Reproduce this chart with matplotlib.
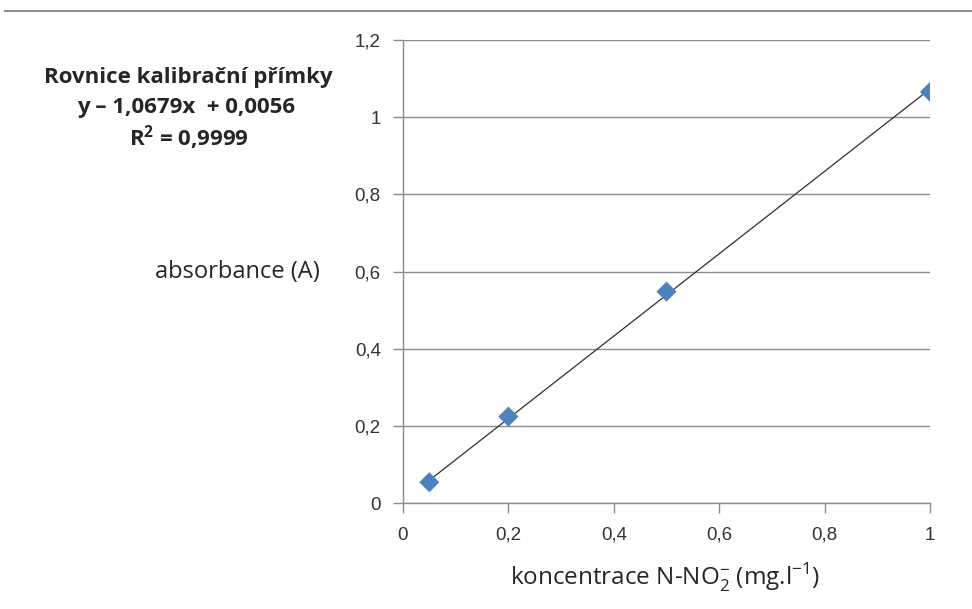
import numpy as np
import matplotlib.pyplot as plt
from matplotlib.lines import Line2D

# data
koncentrace = [0.05, 0.2, 0.5, 1.0]
absorbance = [0.054, 0.224, 0.548, 1.066]
slope = 1.0679
intercept = 0.0056
xticks = [0, 0.2, 0.4, 0.6, 0.8, 1.0]
xlabels = ['0', '0,2', '0,4', '0,6', '0,8', '1']
yticks = [0, 0.2, 0.4, 0.6, 0.8, 1.0, 1.2]
ylabels = ['0', '0,2', '0,4', '0,6', '0,8', '1', '1,2']

txt = '#262626'
fig = plt.figure(figsize=(9.72, 6.09), dpi=100)
ax = fig.add_axes([0.4146, 0.174, 0.5422, 0.760])

# trend line
xl = np.array([koncentrace[0], koncentrace[-1]])
ax.plot(xl, slope * xl + intercept, color='#303030', lw=0.9, zorder=3)
ax.scatter(koncentrace, absorbance, marker='D', s=105, color='#4F81BD',
           edgecolors='none', zorder=4)

ax.set_xlim(0, 1)
ax.set_ylim(0, 1.2)
ax.set_xticks(xticks)
ax.set_xticklabels(xlabels, fontfamily='Liberation Sans', fontsize=13.5)
ax.set_yticks(yticks)
ax.set_yticklabels(ylabels, fontfamily='Liberation Sans', fontsize=13.5)
ax.yaxis.grid(True, color='#8c8c8c', lw=1.0)
ax.set_axisbelow(True)
for s in ['top', 'right']:
    ax.spines[s].set_visible(False)
for s in ['left', 'bottom']:
    ax.spines[s].set_color('#8c8c8c')
    ax.spines[s].set_linewidth(1.0)
ax.tick_params(direction='out', length=7, width=1.0, color='#8c8c8c', labelcolor='#333333')
ax.tick_params(axis='y', pad=9)
ax.tick_params(axis='x', pad=10)

fig.text(0.194, 0.872, 'Rovnice kalibrační přímky', ha='center', va='center',
         fontfamily='Open Sans', fontsize=16, fontweight='bold', color=txt)
fig.text(0.191, 0.823, 'y – 1,0679x  + 0,0056', ha='center', va='center',
         fontfamily='Open Sans', fontsize=16, fontweight='bold', color=txt)
fig.text(0.194, 0.774, 'R$^\\mathregular{2}$ = 0,9999', ha='center', va='center',
         fontfamily='Open Sans', fontsize=16, fontweight='bold', color=txt)
fig.text(0.244, 0.553, 'absorbance (A)', ha='center', va='center',
         fontfamily='Open Sans', fontsize=17, color=txt)
fig.text(0.684, 0.051, 'koncentrace N-NO$_\\mathregular{2}^\\mathregular{-}$ (mg.l$^\\mathregular{-1}$)',
         ha='center', va='center', fontfamily='Open Sans', fontsize=17.5, color=txt)

# gray rule at the top of the page
fig.add_artist(Line2D([0.005, 1.0], [0.982, 0.982], color='#909090', lw=1.5))

fig.savefig('out.png', dpi=100)
